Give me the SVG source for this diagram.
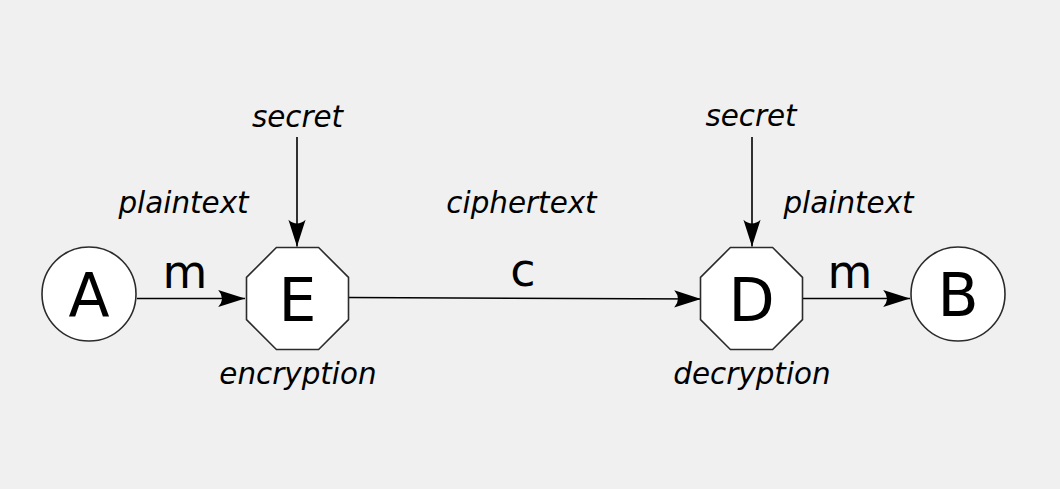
<svg xmlns="http://www.w3.org/2000/svg" width="1060" height="489" viewBox="0 0 1060 489">
<style>
.node{fill:#fff;stroke:#2b2b2b;stroke-width:1.6}
.big{font-family:"DejaVu Sans",sans-serif;font-size:60px;fill:#000;text-anchor:middle}
.lbl{font-family:"DejaVu Sans",sans-serif;font-size:46px;fill:#000;text-anchor:middle}
.it{font-family:"DejaVu Sans",sans-serif;font-style:italic;font-size:29.4px;fill:#000;text-anchor:middle}
.edge{stroke:#000;stroke-width:1.6;fill:none;marker-end:url(#ah)}
</style>
<defs>
<marker id="ah" markerUnits="userSpaceOnUse" markerWidth="30" markerHeight="20" viewBox="-26 -9 28 18" refX="0" refY="0" orient="auto">
<path d="M0,0 L-25,-8 Q-18,0 -25,8 Z" fill="#000"/>
</marker>
</defs>
<rect width="1060" height="489" fill="#f0f0f0"/>
<g id="connectors">
<path class="edge" d="M137,298.5 L245,298.5"/>
<path class="edge" d="M348,297.5 L701,299"/>
<path class="edge" d="M803,298.5 L910,298.5"/>
<path class="edge" d="M297,137 L297,246.5"/>
<path class="edge" d="M752,137 L752,246.5"/>
</g>
<g id="A">
<circle class="node" cx="89" cy="294" r="47"/>
<text class="big" x="89" y="316">A</text>
</g>
<g id="E">
<polygon class="node" points="276.4,247.5 318.6,247.5 348.5,277.4 348.5,319.6 318.6,349.5 276.4,349.5 246.5,319.6 246.5,277.4"/>
<text class="big" x="297.5" y="320.5">E</text>
</g>
<g id="D">
<polygon class="node" points="730.4,247.5 772.6,247.5 802.5,277.4 802.5,319.6 772.6,349.5 730.4,349.5 700.5,319.6 700.5,277.4"/>
<text class="big" x="751.5" y="320.5">D</text>
</g>
<g id="B">
<circle class="node" cx="958" cy="294" r="47"/>
<text class="big" x="958" y="315.5">B</text>
</g>
<g id="labels">
<text class="lbl" x="185" y="288">m</text>
<text class="lbl" x="523" y="286">c</text>
<text class="lbl" x="850" y="288">m</text>
<text class="it" x="297.5" y="126.5">secret</text>
<text class="it" x="751" y="126">secret</text>
<text class="it" x="183.5" y="212.5">plaintext</text>
<text class="it" x="848.5" y="212.5">plaintext</text>
<text class="it" x="521.5" y="212.5">ciphertext</text>
<text class="it" x="298" y="383.5">encryption</text>
<text class="it" x="752" y="383.5">decryption</text>
</g>
</svg>
